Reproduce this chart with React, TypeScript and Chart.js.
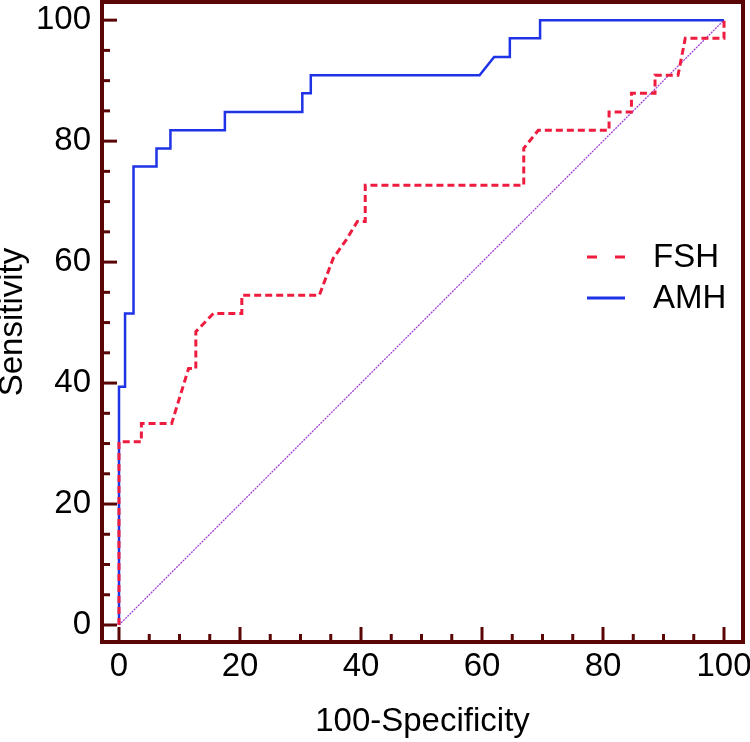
import React, { useEffect, useRef } from "react";
import { Chart, registerables } from "chart.js";

Chart.register(...registerables);

// ---- data ----
const seriesLabels = ["FSH", "AMH"];
const fshX = [0, 0, 3.7, 3.7, 8.7, 11.5, 12.7, 12.7, 15.6, 20.3, 20.3, 33.1, 35.4, 37.5, 39.4, 40.7, 40.7, 66.9, 66.9, 69.3, 81.0, 81.0, 84.7, 84.7, 88.6, 88.6, 92.4, 93.6, 100, 100];
const fshY = [0, 30.3, 30.3, 33.3, 33.3, 42.4, 42.4, 48.5, 51.5, 51.5, 54.5, 54.5, 60.6, 63.6, 66.7, 66.7, 72.7, 72.7, 78.8, 81.8, 81.8, 84.8, 84.8, 87.9, 87.9, 90.9, 90.9, 97.0, 97.0, 100];
const amhX = [0, 0, 1.0, 1.0, 2.4, 2.4, 6.2, 6.2, 8.5, 8.5, 17.5, 17.5, 30.3, 30.3, 31.7, 31.7, 59.6, 62.0, 64.6, 64.6, 69.6, 69.6, 100];
const amhY = [0, 39.4, 39.4, 51.5, 51.5, 75.8, 75.8, 78.8, 78.8, 81.8, 81.8, 84.8, 84.8, 87.9, 87.9, 90.9, 90.9, 93.9, 93.9, 97.0, 97.0, 100, 100];
const refX = [0, 100];
const refY = [0, 100];
const majorTicks = [0, 20, 40, 60, 80, 100];
const minorTicks = [0, 5, 10, 15, 20, 25, 30, 35, 40, 45, 50, 55, 60, 65, 70, 75, 80, 85, 90, 95, 100];
const xTitle = "100-Specificity";
const yTitle = "Sensitivity";

const FRAME = "#5a0606";
const RED = "#ee1c3f";
const BLUE = "#1e32e6";
const DIAG = "#a040d8";
const FONT = "'Liberation Sans', Arial, sans-serif";

const toPts = (xs: number[], ys: number[]) => xs.map((x, i) => ({ x, y: ys[i] }));

const framePlugin = {
  id: "frameTicksLegend",
  afterDatasetsDraw(chart: any) {
    const { ctx, chartArea: a, scales } = chart;
    const x = scales.x;
    const y = scales.y;
    ctx.save();
    ctx.strokeStyle = FRAME;
    ctx.lineCap = "butt";
    ctx.lineWidth = 3;
    for (const v of minorTicks) {
      const len = majorTicks.includes(v) ? 15 : 8;
      const px = x.getPixelForValue(v);
      ctx.beginPath();
      ctx.moveTo(px, a.bottom);
      ctx.lineTo(px, a.bottom - len);
      ctx.stroke();
      const py = y.getPixelForValue(v);
      ctx.beginPath();
      ctx.moveTo(a.left, py);
      ctx.lineTo(a.left + len, py);
      ctx.stroke();
    }
    ctx.lineWidth = 4;
    ctx.strokeRect(a.left, a.top, a.right - a.left, a.bottom - a.top);

    // legend
    const ds = chart.data.datasets;
    const rows = [a.top + 255, a.top + 296];
    ctx.font = `33px ${FONT}`;
    ctx.textBaseline = "middle";
    ctx.textAlign = "left";
    ctx.fillStyle = "#000";
    for (let i = 0; i < 2; i++) {
      const d = ds[i];
      const ly = rows[i];
      ctx.strokeStyle = d.borderColor;
      ctx.lineWidth = 3;
      ctx.setLineDash(d.borderDash && d.borderDash.length ? [10, 18] : []);
      ctx.beginPath();
      ctx.moveTo(a.right - 156, ly);
      ctx.lineTo(a.right - 118, ly);
      ctx.stroke();
      ctx.setLineDash([]);
      ctx.fillText(d.label, a.right - 90, ly + 1);
    }
    ctx.restore();
  },
};

export default function App() {
  const ref = useRef<HTMLCanvasElement | null>(null);
  useEffect(() => {
    if (!ref.current) return;
    const chart = new Chart(ref.current, {
      type: "line",
      data: {
        datasets: [
          {
            label: seriesLabels[0],
            data: toPts(fshX, fshY),
            borderColor: RED,
            borderWidth: 3,
            borderDash: [7, 4],
            pointRadius: 0,
            tension: 0,
            fill: false,
          },
          {
            label: seriesLabels[1],
            data: toPts(amhX, amhY),
            borderColor: BLUE,
            borderWidth: 2.5,
            pointRadius: 0,
            tension: 0,
            fill: false,
          },
          {
            label: "ref",
            data: toPts(refX, refY),
            borderColor: DIAG,
            borderWidth: 1.3,
            borderDash: [2, 1],
            pointRadius: 0,
            tension: 0,
            fill: false,
          },
        ],
      },
      options: {
        animation: false,
        responsive: true,
        maintainAspectRatio: false,
        layout: { padding: { top: 2, right: 7, bottom: 0, left: 0 } },
        plugins: { legend: { display: false }, tooltip: { enabled: false } },
        scales: {
          x: {
            type: "linear",
            min: -2.81,
            max: 103.14,
            grid: { display: false, drawTicks: false },
            border: { display: false },
            afterBuildTicks: (s: any) => {
              s.ticks = majorTicks.map((v) => ({ value: v }));
            },
            afterFit: (s: any) => {
              s.height = 100;
              s.paddingLeft = 0;
              s.paddingRight = 0;
            },
            ticks: { autoSkip: false, maxRotation: 0, padding: 5, color: "#000", font: { family: FONT, size: 33 } },
            title: { display: true, text: xTitle, color: "#000", padding: 0, font: { family: FONT, size: 33 } },
          },
          y: {
            type: "linear",
            min: -2.81,
            max: 103.0,
            grid: { display: false, drawTicks: false },
            border: { display: false },
            afterBuildTicks: (s: any) => {
              s.ticks = majorTicks.map((v) => ({ value: v }));
            },
            afterFit: (s: any) => {
              s.width = 102;
              s.paddingTop = 0;
              s.paddingBottom = 0;
            },
            ticks: { autoSkip: false, padding: 11, color: "#000", font: { family: FONT, size: 33 } },
            title: {
              display: true,
              text: yTitle,
              color: "#000",
              padding: { top: -4, bottom: 0 },
              font: { family: FONT, size: 33, lineHeight: 1 },
            },
          },
        },
      },
      plugins: [framePlugin],
    } as any);
    return () => chart.destroy();
  }, []);
  return (
    <div style={{ position: "fixed", left: 0, top: 0, width: 750, height: 742, background: "#fff" }}>
      <canvas ref={ref} />
    </div>
  );
}
